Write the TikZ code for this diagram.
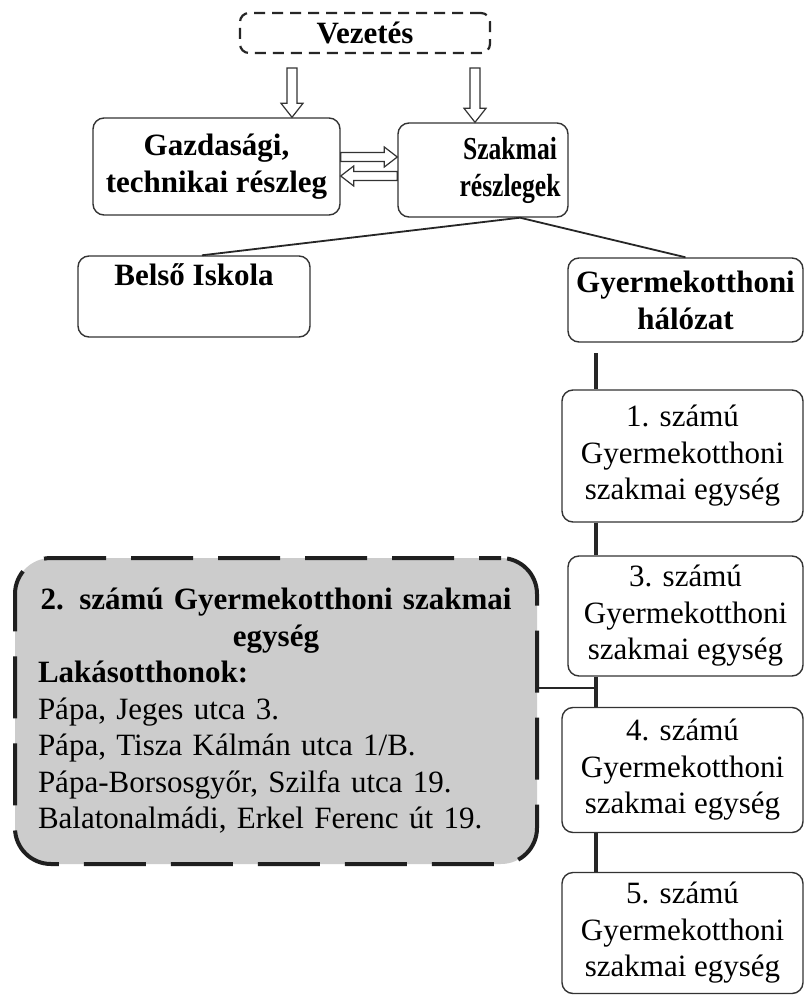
\documentclass[tikz,border=0pt]{standalone}
\usepackage{fontspec}
\setmainfont{Liberation Serif}
\newfontfamily\condfont[FakeStretch=0.8]{Liberation Serif}
\usetikzlibrary{calc}
\newcommand\downarr[2]{%
  \draw[hollow] let \p1=(#1), \p2=(#2) in
  (\x1-5pt,\y1) -- (\x1+5pt,\y1) -- (\x1+5pt,\y2+14pt) -- (\x1+11pt,\y2+14pt) --
  (\x1,\y2) -- (\x1-11pt,\y2+14pt) -- (\x1-5pt,\y2+14pt) -- cycle;}
\newcommand\rightarr[2]{%
  \draw[hollow] let \p1=(#1), \p2=(#2) in
  (\x1,\y1+4.5pt) -- (\x2-13pt,\y1+4.5pt) -- (\x2-13pt,\y1+10pt) -- (\x2,\y1) --
  (\x2-13pt,\y1-10pt) -- (\x2-13pt,\y1-4.5pt) -- (\x1,\y1-4.5pt) -- cycle;}
\newcommand\leftarr[2]{%
  \draw[hollow] let \p1=(#1), \p2=(#2) in
  (\x1,\y1+4.5pt) -- (\x2+13pt,\y1+4.5pt) -- (\x2+13pt,\y1+10pt) -- (\x2,\y1) --
  (\x2+13pt,\y1-10pt) -- (\x2+13pt,\y1-4.5pt) -- (\x1,\y1-4.5pt) -- cycle;}
\begin{document}
\begin{tikzpicture}[x=1pt,y=-1pt,
  box/.style={draw=black!80, line width=1.4pt, rounded corners=11pt, fill=white,
    align=center, inner sep=0pt},
  vezbox/.style={draw=black!85, line width=2.2pt, dash pattern=on 11pt off 7pt,
    rounded corners=9pt, fill=white, align=center, inner sep=0pt},
  unitbox/.style={draw=black!88, line width=4pt, dash pattern=on 62pt off 25pt,
    dash phase=40pt, rounded corners=36pt, fill=black!20, inner sep=0pt},
  bigb/.style={font=\fontsize{31}{37}\selectfont\bfseries},
  condb/.style={font=\fontsize{32}{37}\selectfont\condfont\bfseries},
  reg/.style={font=\fontsize{31}{36.5}\selectfont},
  txt/.style={inner sep=0pt, align=center},
  link/.style={draw=black!85, line width=1.8pt},
  trunk/.style={draw=black!85, line width=4.5pt},
  hollow/.style={draw=black!80, line width=1.2pt, fill=white, line join=miter}]
\useasboundingbox (0,0) rectangle (805,995);
\fill[white] (0,0) rectangle (805,995);

% boxes
\node[vezbox, bigb, minimum width=250pt, minimum height=40pt] (vez) at (365,33) {Vezetés};
\node[box, bigb, minimum width=247pt, minimum height=97pt] (gaz) at (216.5,166.5)
  {Gazdasági,\\technikai részleg};
\node[box, minimum width=170pt, minimum height=94pt] (szak) at (483,170) {};
\node[txt, condb] (szakt) at (510,170) {Szakmai\\részlegek};
\node[box, minimum width=232pt, minimum height=81pt] (belso) at (194,296.5) {};
\node[txt, bigb, anchor=base] (belsot) at (194,285) {Belső Iskola};
\node[box, bigb, minimum width=235pt, minimum height=84pt] (halo) at (685.5,300)
  {Gyermekotthoni\\hálózat};

\node[box, reg, minimum width=241pt, minimum height=132pt] (b1) at (682.5,456)
  {1. számú\\Gyermekotthoni\\szakmai egység};
\node[box, reg, minimum width=235pt, minimum height=120pt] (b3) at (685.5,616)
  {3. számú\\Gyermekotthoni\\szakmai egység};
\node[box, reg, minimum width=241pt, minimum height=125pt] (b4) at (682.5,770)
  {4. számú\\Gyermekotthoni\\szakmai egység};
\node[box, reg, minimum width=241pt, minimum height=121pt] (b5) at (682.5,933)
  {5. számú\\Gyermekotthoni\\szakmai egység};

\node[unitbox, reg, minimum width=522pt, minimum height=306pt, text width=476pt,
  align=left] (b2) at (276,711)
  {\makebox[\linewidth]{\bfseries 2. számú Gyermekotthoni szakmai}\\
   \makebox[\linewidth]{\bfseries egység}\\
   \textbf{Lakásotthonok:}\\
   Pápa, Jeges utca 3.\\
   Pápa, Tisza Kálmán utca 1/B.\\
   Pápa-Borsosgyőr, Szilfa utca 19.\\
   Balatonalmádi, Erkel Ferenc út 19.};

% hollow arrows
\coordinate (a1) at (292,68);
\coordinate (a2) at (475,68);
\downarr{a1}{a1 |- gaz.north}
\downarr{a2}{a2 |- szak.north}
\coordinate (r1) at (gaz.east |- 0,157);
\coordinate (l1) at (szak.west |- 0,176);
\rightarr{r1}{szak.west |- r1}
\leftarr{l1}{gaz.east |- l1}

% tree lines
\coordinate (apex) at ($(szak.south)+(37,0)$);
\draw[link] (apex) -- ($(belso.north)+(8,0)$);
\draw[link] (apex) -- (halo.north);

% trunk
\coordinate (t0) at (596,353);
\draw[trunk] (t0) -- (t0 |- b1.north);
\draw[trunk] (t0 |- b1.south) -- (t0 |- b3.north);
\draw[trunk] (t0 |- b3.south) -- (t0 |- b4.north);
\draw[trunk] (t0 |- b4.south) -- (t0 |- b5.north);
\coordinate (j) at (596,688);
\draw[link] (b2.east |- j) -- (j);
\end{tikzpicture}
\end{document}
